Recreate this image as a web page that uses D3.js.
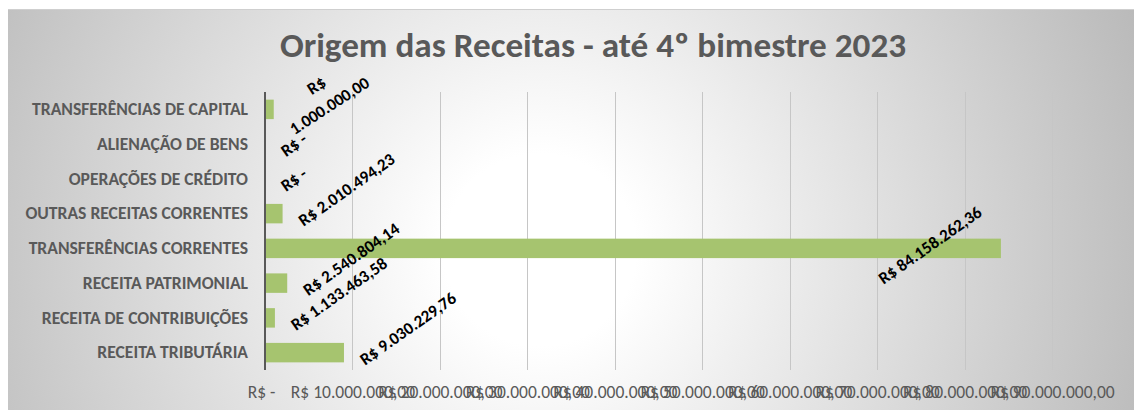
<!DOCTYPE html>
<html><head><meta charset="utf-8">
<script src="https://cdn.jsdelivr.net/npm/d3@7"></script>
<style>body{margin:0;background:#fff}svg{display:block}</style>
</head><body>
<svg id="chart" width="1134" height="410"></svg>
<script>
// ---- data ----
const categories = [
  "TRANSFERÊNCIAS DE CAPITAL",
  "ALIENAÇÃO DE BENS",
  "OPERAÇÕES DE CRÉDITO",
  "OUTRAS RECEITAS CORRENTES",
  "TRANSFERÊNCIAS CORRENTES",
  "RECEITA PATRIMONIAL",
  "RECEITA DE CONTRIBUIÇÕES",
  "RECEITA TRIBUTÁRIA"
];
const values = [1000000.00, 0, 0, 2010494.23, 84158262.36, 2540804.14, 1133463.58, 9030229.76];
const tickValues = [0, 10000000, 20000000, 30000000, 40000000, 50000000, 60000000, 70000000, 80000000, 90000000];
const titleText = "Origem das Receitas - até 4º bimestre 2023";

// ---- formatting ----
const ptBR = d3.formatLocale({decimal: ",", thousands: ".", grouping: [3], currency: ["R$ ", ""]});
const fmtNum = ptBR.format(",.2f");
const fmtBRL = v => v === 0 ? "R$ -" : "R$ " + fmtNum(v);

const FONT = "Carlito, Calibri, Lato, 'Open Sans', sans-serif";
const svg = d3.select("#chart");
const W = 1134, H = 410;

// ---- background ----
const defs = svg.append("defs");
const rg = defs.append("radialGradient").attr("id", "bg")
  .attr("gradientUnits", "userSpaceOnUse")
  .attr("cx", 540).attr("cy", 250).attr("r", 640);
rg.append("stop").attr("offset", 0).attr("stop-color", "#ffffff");
rg.append("stop").attr("offset", 0.15).attr("stop-color", "#ffffff");
rg.append("stop").attr("offset", 1).attr("stop-color", "#bababa");
svg.append("rect").attr("width", W).attr("height", H).attr("fill", "#ffffff");
svg.append("rect").attr("x", 8).attr("y", 9).attr("width", W - 8).attr("height", H - 9)
  .attr("fill", "url(#bg)");
svg.append("line").attr("x1", 8).attr("x2", W).attr("y1", 9.5).attr("y2", 9.5)
  .attr("stroke", "#cfcfcf").attr("stroke-width", 1);

// ---- scales ----
const plot = {left: 265, right: 1052, top: 92, bottom: 370};
const x = d3.scaleLinear().domain([0, 90000000]).range([plot.left, plot.right]);
const y = d3.scaleBand().domain(categories).range([plot.top, plot.bottom])
  .paddingInner(0.44).paddingOuter(0.22);

// ---- title ----
svg.append("text").attr("x", 593).attr("y", 57).attr("text-anchor", "middle")
  .attr("font-family", FONT).attr("font-weight", "bold").attr("font-size", 35.2)
  .attr("fill", "#595959").text(titleText);

// ---- gridlines ----
svg.append("g").selectAll("line").data(tickValues.filter(d => d > 0)).join("line")
  .attr("x1", d => Math.round(x(d)) + 0.5).attr("x2", d => Math.round(x(d)) + 0.5)
  .attr("y1", plot.top).attr("y2", plot.bottom)
  .attr("stroke", "#c6c6c6").attr("stroke-width", 1);

// ---- x axis ----
const xAxis = d3.axisBottom(x).tickValues(tickValues).tickSize(0).tickPadding(0)
  .tickFormat(fmtBRL);
const gx = svg.append("g").attr("transform", `translate(0,${plot.bottom})`).call(xAxis);
gx.select(".domain").remove();
gx.selectAll("text").attr("font-family", FONT).attr("font-size", 17.5)
  .attr("fill", "#595959").attr("dy", null).attr("y", 28);
gx.selectAll(".tick").filter(d => d === 0).select("text").attr("dx", -4);

// ---- bars ----
svg.append("g").selectAll("rect").data(values).join("rect")
  .attr("x", x(0))
  .attr("y", (d, i) => y(categories[i]))
  .attr("width", d => x(d) - x(0))
  .attr("height", y.bandwidth())
  .attr("fill", "#a6c46f");

// ---- y axis ----
const yAxis = d3.axisLeft(y).tickSize(0).tickPadding(17);
const gy = svg.append("g").attr("transform", `translate(${plot.left},0)`).call(yAxis);
gy.select(".domain").remove();
gy.selectAll("text").attr("font-family", FONT).attr("font-weight", "bold")
  .attr("font-size", 17.6).attr("fill", "#595959");
svg.append("line").attr("x1", plot.left).attr("x2", plot.left)
  .attr("y1", plot.top).attr("y2", plot.bottom)
  .attr("stroke", "#595959").attr("stroke-width", 2);

// ---- data labels ----
const ANG = 35, rad = ANG * Math.PI / 180;
const lg = svg.append("g").attr("font-family", FONT).attr("font-weight", "bold")
  .attr("font-size", 17).attr("fill", "#000");
values.forEach((v, i) => {
  const yc = y(categories[i]) + y.bandwidth() / 2;
  const xe = x(v);
  const label = fmtBRL(v);
  const t = lg.append("text").text(label);
  const w = t.node().getComputedTextLength();
  if (xe + 21 + w * Math.cos(rad) > plot.right) {
    // inside end
    t.attr("text-anchor", "middle").attr("dominant-baseline", "central")
      .attr("transform", `translate(${xe - 18 - w * Math.cos(rad) / 2 - 3},${yc - 3}) rotate(${-ANG})`);
  } else if (yc + 13 - w * Math.sin(rad) - 12 < 62) {
    // would collide with title: wrap into two centred lines
    const parts = label.split(" ");
    t.text(null).attr("text-anchor", "middle")
      .attr("transform", `translate(${xe + 49},${yc - 14}) rotate(${-ANG + 2})`);
    t.append("tspan").attr("x", 0).attr("y", -6).text(parts[0]);
    t.append("tspan").attr("x", 0).attr("y", 18).text(parts.slice(1).join(" "));
  } else {
    t.attr("text-anchor", "start")
      .attr("transform", `translate(${xe + 21},${yc + 13}) rotate(${-ANG})`);
  }
});
</script>
</body></html>
